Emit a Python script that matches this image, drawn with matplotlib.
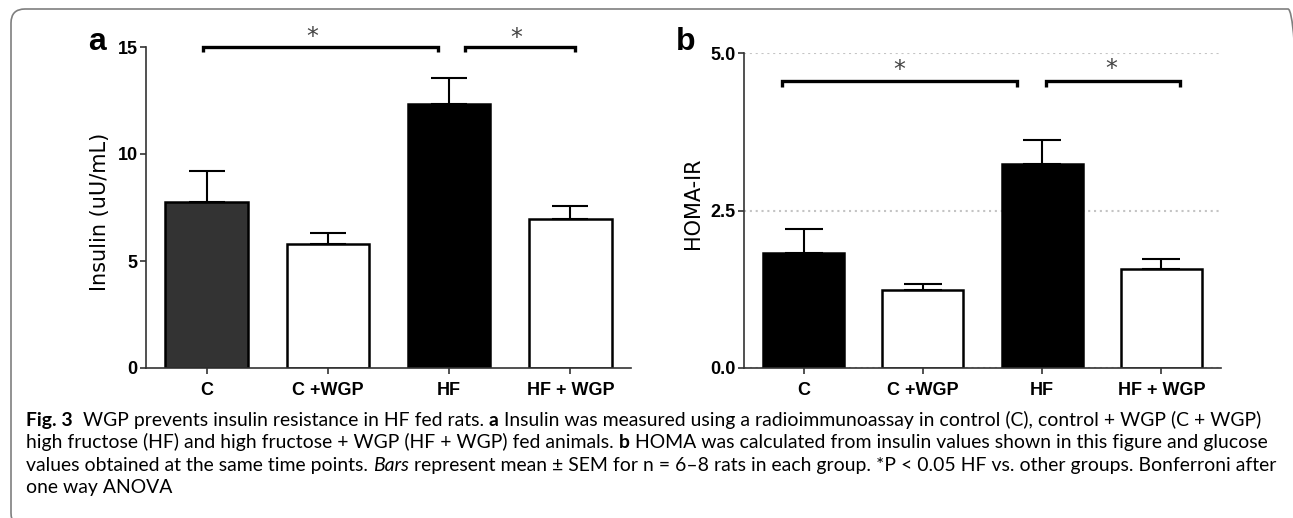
import matplotlib
matplotlib.use('Agg')
import matplotlib.pyplot as plt
from matplotlib.font_manager import FontProperties
from matplotlib.patches import FancyBboxPatch
from matplotlib.transforms import IdentityTransform

# data
groups = ['C', 'C +WGP', 'HF', 'HF + WGP']
insulin = [7.74, 5.81, 12.34, 6.96]
insulin_sem = [1.48, 0.48, 1.23, 0.62]
homa = [1.83, 1.24, 3.24, 1.57]
homa_sem = [0.38, 0.09, 0.38, 0.16]

colors_a = ['#333333', 'white', 'black', 'white']
colors_b = ['black', 'white', 'black', 'white']

# significance brackets (x start, x end, height) and stars (x, y)
brackets_a = [(-0.03, 1.91, 15.0), (2.13, 3.04, 15.0)]
stars_a = [(0.87, 15.45), (2.55, 15.42)]
brackets_b = [(-0.18, 1.79, 4.55), (2.035, 3.16, 4.55)]
stars_b = [(0.80, 4.73), (2.58, 4.75)]

W, H = 1293, 518
fig = plt.figure(figsize=(W / 100, H / 100), dpi=100)

tickfont = ['Liberation Sans', 'DejaVu Sans']


def panel(rect, vals, errs, cols, brackets, stars, ylim, yticks, yticklabels,
          ylabel, ylab_pos, hook, capsize):
    ax = fig.add_axes(rect)
    x = range(len(vals))
    ax.bar(x, vals, width=0.68, color=cols, edgecolor='black', linewidth=1.8, zorder=2)
    ax.errorbar(x, vals, yerr=[[0] * len(errs), errs], fmt='none', ecolor='black',
                elinewidth=1.5, capsize=capsize, capthick=1.5, zorder=3)
    ax.set_xlim(-0.5, 3.5)
    ax.set_ylim(*ylim)
    ax.set_xticks(list(x))
    ax.set_xticklabels(groups)
    ax.set_yticks(yticks)
    ax.set_yticklabels(yticklabels)
    for lab in ax.get_xticklabels() + ax.get_yticklabels():
        lab.set_fontfamily(tickfont)
        lab.set_fontweight('bold')
        lab.set_fontsize(13)
    ax.tick_params(axis='x', direction='out', length=4, width=1.2, pad=6, color='#333333')
    ax.tick_params(axis='y', direction='out', length=4, width=1.2, pad=2, color='#333333')
    for s in ['top', 'right']:
        ax.spines[s].set_visible(False)
    for s in ['left', 'bottom']:
        ax.spines[s].set_linewidth(1.2)
        ax.spines[s].set_color('#333333')
    for x0, x1, h in brackets:
        ax.plot([x0, x0, x1, x1], [h - hook, h, h, h - hook], color='black', lw=2.4,
                clip_on=False, solid_joinstyle='miter', solid_capstyle='butt', zorder=4)
    for sx, sy in stars:
        ax.text(sx, sy, '*', ha='center', va='center', fontsize=17, color='#444444',
                family='DejaVu Sans', clip_on=False)
    ax.text(ylab_pos[0], ylab_pos[1], ylabel, rotation=90, ha='center', va='center',
            fontsize=15, family='DejaVu Sans', transform=ax.transAxes)
    return ax


ax1 = panel([146 / W, 150 / H, 485 / W, 321 / H], insulin, insulin_sem, colors_a,
            brackets_a, stars_a, (0, 15), [0, 5, 10, 15], ['0', '5', '10', '15'],
            'Insulin (uU/mL)', (-0.095, 0.485), 0.23, 13)

ax2 = panel([744 / W, 150 / H, 477 / W, 315 / H], homa, homa_sem, colors_b,
            brackets_b, stars_b, (0, 5), [0, 2.5, 5], ['0.0', '2.5', '5.0'],
            'HOMA-IR', (-0.106, 0.522), 0.09, 14)
ax2.yaxis.grid(True, color='#c4c4c4', linestyle=(0, (1, 1.8)), linewidth=1.5)
ax2.set_axisbelow(True)

# panel letters
fig.text(97 / W, (H - 50) / H, 'a', ha='center', va='baseline', fontsize=23,
         fontweight='bold', family=tickfont)
fig.text(686 / W, (H - 50) / H, 'b', ha='center', va='baseline', fontsize=23,
         fontweight='bold', family=tickfont)

# rounded frame
frame = FancyBboxPatch((11, -9), 1291, 518, boxstyle='round,pad=0,rounding_size=14',
                       fill=False, edgecolor='#7f7f7f', linewidth=1.2,
                       transform=IdentityTransform())
fig.add_artist(frame)

# caption, drawn run by run
cap_family = ['Lato', 'DejaVu Sans']
N, B, I = 'normal', 'bold', 'italic'
caption = [
    [('Fig. 3', B), ('  WGP prevents insulin resistance in HF fed rats. ', N), ('a', B),
     (' Insulin was measured using a radioimmunoassay in control (C), control + WGP (C + WGP)', N)],
    [('high fructose (HF) and high fructose + WGP (HF + WGP) fed animals. ', N), ('b', B),
     (' HOMA was calculated from insulin values shown in this figure and glucose', N)],
    [('values obtained at the same time points. ', N), ('Bars', I),
     (' represent mean \u00b1 SEM for n = 6\u20138 rats in each group. *P < 0.05 HF vs. other groups. Bonferroni after', N)],
    [('one way ANOVA', N)],
]
baselines = [426, 448, 471, 493]

renderer = fig.canvas.get_renderer()


def fprop(style, size):
    return FontProperties(family=cap_family, size=size,
                          weight='bold' if style == B else 'normal',
                          style='italic' if style == I else 'normal')


def run_width(s, fp):
    w1 = renderer.get_text_width_height_descent('|' + s + '|', fp, ismath=False)[0]
    w0 = renderer.get_text_width_height_descent('||', fp, ismath=False)[0]
    return w1 - w0


base = 13.0
w2 = sum(run_width(s, fprop(st, base)) for s, st in caption[1])
cap_size = base * 1237 / w2

for line, yb in zip(caption, baselines):
    x = 26.0
    for s, st in line:
        fp = fprop(st, cap_size)
        fig.text(x / W, (H - yb) / H, s, fontproperties=fp, ha='left', va='baseline')
        x += run_width(s, fp)

fig.savefig('out.png', dpi=100)
